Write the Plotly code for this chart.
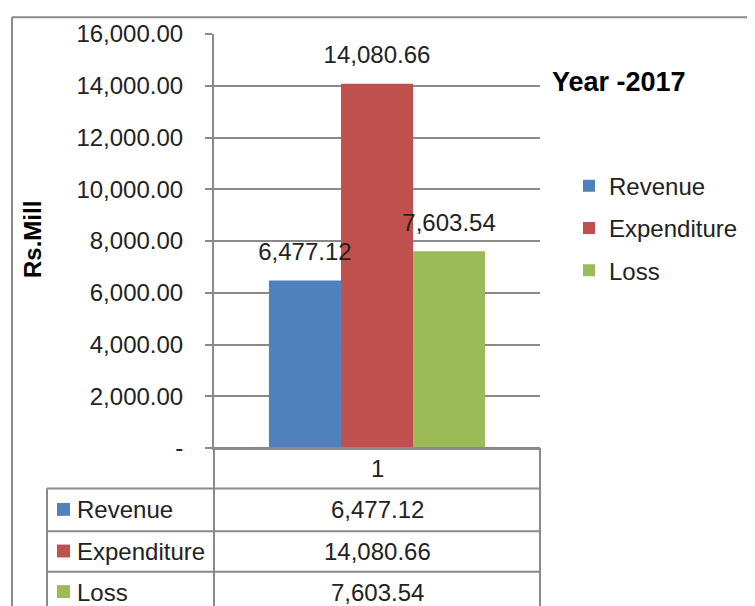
import plotly.graph_objects as go

# ---- data ----
categories = ["1"]
series_names = ["Revenue", "Expenditure", "Loss"]
revenue = [6477.12]
expenditure = [14080.66]
loss = [7603.54]
series_values = [revenue, expenditure, loss]
y_tick_vals = [0, 2000, 4000, 6000, 8000, 10000, 12000, 14000, 16000]
y_tick_labels = ["-", "2,000.00", "4,000.00", "6,000.00", "8,000.00",
                 "10,000.00", "12,000.00", "14,000.00", "16,000.00"]
chart_title = "Year -2017"
y_title = "Rs.Mill"

# ---- style ----
colors = ["#4F81BD", "#C0504D", "#9BBB59"]
FONT = "Liberation Sans, Arial, sans-serif"
TXT = "#222222"
GRID = "#8a8a8a"
OFF = 8                      # page body margin
W_FIG, H_FIG = 755 - OFF, 606 - OFF
# plot area in page pixels
L, R, T, B = 214, 540, 30, 448
PW, PH = R - L, B - T


def px(x):
    return (x - L) / PW


def py(y):
    return (B - y) / PH


fig = go.Figure()
for name, vals, col in zip(series_names, series_values, colors):
    fig.add_trace(go.Bar(
        x=categories, y=vals, name=name, marker_color=col,
        marker_line_width=0, offsetgroup=name, legendgroup=name,
    ))
for name, vals in zip(series_names, series_values):
    fig.add_trace(go.Scatter(
        x=categories, y=vals, mode="markers+text", offsetgroup=name,
        marker=dict(size=22, opacity=0),
        text=[f"{v:,.2f}" for v in vals], textposition="top center",
        textfont=dict(family=FONT, size=24, color=TXT),
        showlegend=False, cliponaxis=False, hoverinfo="skip",
    ))

shapes = []
line = dict(color=GRID, width=2)
# outer chart border (cropped on right/bottom)
shapes.append(dict(type="line", xref="paper", yref="paper",
                   x0=px(12), x1=px(770), y0=py(13), y1=py(13), line=line))
shapes.append(dict(type="line", xref="paper", yref="paper",
                   x0=px(12), x1=px(12), y0=py(13), y1=py(625), line=line))
# data table grid
row_edges = [448, 489, 532, 573, 614]
tbl_left = 47
shapes.append(dict(type="line", xref="paper", yref="paper",
                   x0=px(L), x1=px(L), y0=py(448), y1=py(625), line=line))
shapes.append(dict(type="line", xref="paper", yref="paper",
                   x0=px(R), x1=px(R), y0=py(448), y1=py(625), line=line))
shapes.append(dict(type="line", xref="paper", yref="paper",
                   x0=px(tbl_left), x1=px(tbl_left), y0=py(489), y1=py(625), line=line))
for i, ye in enumerate(row_edges):
    x0 = L if i == 0 else tbl_left
    shapes.append(dict(type="line", xref="paper", yref="paper",
                       x0=px(x0), x1=px(R), y0=py(ye), y1=py(ye), line=line))

annotations = []
# header "1"
annotations.append(dict(xref="paper", yref="paper", x=px((L + R) / 2),
                        y=py((row_edges[0] + row_edges[1]) / 2),
                        text=categories[0], showarrow=False,
                        font=dict(family=FONT, size=24, color=TXT),
                        xanchor="center", yanchor="middle"))
for i, (name, vals, col) in enumerate(zip(series_names, series_values, colors)):
    yc = (row_edges[i + 1] + row_edges[i + 2]) / 2
    shapes.append(dict(type="rect", xref="paper", yref="paper",
                       x0=px(57), x1=px(70), y0=py(yc - 7), y1=py(yc + 6),
                       fillcolor=col, line=dict(width=0)))
    annotations.append(dict(xref="paper", yref="paper", x=px(75), y=py(yc),
                            text=name, showarrow=False,
                            font=dict(family=FONT, size=24, color=TXT),
                            xanchor="left", yanchor="middle"))
    annotations.append(dict(xref="paper", yref="paper", x=px((L + R) / 2), y=py(yc),
                            text=f"{vals[0]:,.2f}", showarrow=False,
                            font=dict(family=FONT, size=24, color=TXT),
                            xanchor="center", yanchor="middle"))
# title
annotations.append(dict(xref="paper", yref="paper", x=px(550), y=py(78),
                        text=f"<b>{chart_title}</b>", showarrow=False,
                        font=dict(family=FONT, size=27, color="#000000"),
                        xanchor="left", yanchor="middle"))
# y-axis title
annotations.append(dict(xref="paper", yref="paper", x=px(32), y=py(238),
                        text=f"<b>{y_title}</b>", showarrow=False, textangle=-90,
                        font=dict(family=FONT, size=24, color="#000000"),
                        xanchor="center", yanchor="middle"))

fig.update_layout(
    width=W_FIG, height=H_FIG, autosize=False,
    margin=dict(l=L - OFF, r=W_FIG - (R - OFF), t=T - OFF, b=H_FIG - (B - OFF), pad=0),
    paper_bgcolor="white", plot_bgcolor="white",
    barmode="group", bargap=0.337, bargroupgap=0,
    scattermode="group", scattergap=0.337,
    font=dict(family=FONT, size=24, color=TXT),
    showlegend=True,
    legend=dict(x=px(569), y=py(161), xanchor="left", yanchor="top",
                traceorder="grouped", tracegroupgap=8,
                font=dict(family=FONT, size=24, color=TXT),
                bgcolor="rgba(0,0,0,0)", itemwidth=30),
    shapes=shapes, annotations=annotations,
)
fig.update_yaxes(range=[0, 16000], tickvals=y_tick_vals, ticktext=y_tick_labels,
                 showgrid=True, gridcolor=GRID, gridwidth=2,
                 ticks="outside", ticklen=7, tickwidth=2, tickcolor=GRID,
                 showline=True, linecolor=GRID, linewidth=2, zeroline=False,
                 ticklabelstandoff=17,
                 tickfont=dict(family=FONT, size=24, color=TXT))
fig.update_xaxes(showticklabels=False, showline=True, linecolor=GRID, linewidth=2,
                 ticks="", showgrid=False, zeroline=False)

fig.write_html("out.html")
